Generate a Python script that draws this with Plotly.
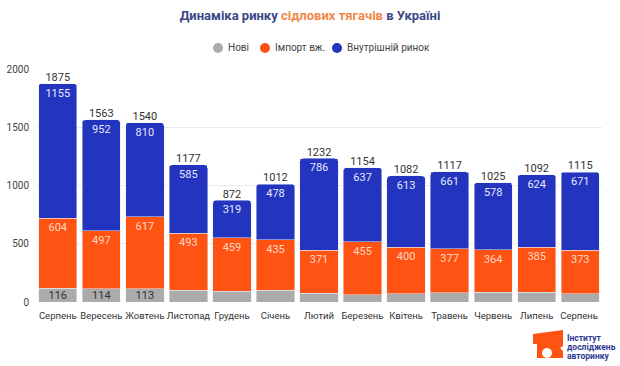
import plotly.graph_objects as go

months = ["Серпень", "Вересень", "Жовтень", "Листопад", "Грудень", "Січень", "Лютий",
          "Березень", "Квітень", "Травень", "Червень", "Липень", "Серпень "]
new_vals = [116, 114, 113, 99, 94, 99, 75, 62, 69, 79, 83, 83, 71]
import_vals = [604, 497, 617, 493, 459, 435, 371, 455, 400, 377, 364, 385, 373]
domestic_vals = [1155, 952, 810, 585, 319, 478, 786, 637, 613, 661, 578, 624, 671]
totals = [1875, 1563, 1540, 1177, 872, 1012, 1232, 1154, 1082, 1117, 1025, 1092, 1115]
new_labels = ["116", "114", "113", "", "", "", "", "", "", "", "", "", ""]
y_ticks = [0, 500, 1000, 1500, 2000]
legend_names = ["Нові", "Імпорт вж.", "Внутрішній ринок"]
logo_lines = ["Інститут", "досліджень", "авторинку"]

GRAY = "#ABABAB"
ORANGE = "#FF5313"
BLUE = "#2335BE"
FONT = "Roboto"
L, R, T, B = 36, 18, 69, 64
W, H = 620, 366
PW, PH = W - L - R, H - T - B


def px(xp):
    return (xp - L) / PW


def py(yp):
    return (H - B - yp) / PH


fig = go.Figure()

# faint watermarks
for (wx, wy) in [(70, 95), (250, 165), (490, 55), (610, 140), (440, 300), (50, 300)]:
    fig.add_annotation(text="<b>Інститут<br>досліджень<br>авторинку</b>", xref="paper", yref="paper",
                       x=px(wx), y=py(wy), showarrow=False, textangle=-20, align="left",
                       font=dict(family=FONT, size=24, color="rgba(0,0,0,0.02)"))

fig.add_trace(go.Bar(x=months, y=new_vals, marker_color=GRAY, name=legend_names[0], showlegend=False,
                     text=new_labels, textposition="inside", insidetextanchor="middle",
                     textfont=dict(color="#333333", size=11, family=FONT), hoverinfo="skip"))
fig.add_trace(go.Bar(x=months, y=import_vals, marker_color=ORANGE, name=legend_names[1], showlegend=False,
                     text=[str(v) for v in import_vals], textposition="inside", insidetextanchor="end",
                     textfont=dict(color="#FFD9C6", size=11, family=FONT), hoverinfo="skip"))
fig.add_trace(go.Bar(x=months, y=domestic_vals, marker_color=BLUE, name=legend_names[2], showlegend=False,
                     text=[str(v) for v in domestic_vals], textposition="inside", insidetextanchor="end",
                     textfont=dict(color="#E6E9FF", size=11, family=FONT), hoverinfo="skip"))
fig.add_trace(go.Scatter(x=months, y=totals, mode="text", text=[str(v) for v in totals],
                         textposition="top center", textfont=dict(color="#333333", size=11, family=FONT),
                         showlegend=False, cliponaxis=False, hoverinfo="skip"))

fig.update_layout(
    width=W, height=H,
    margin=dict(l=L, r=R, t=T, b=B, autoexpand=False),
    barmode="stack", bargap=0.12, barcornerradius=3,
    plot_bgcolor="white", paper_bgcolor="white",
    font=dict(family=FONT, size=10, color="#444444"),
    showlegend=False,
    title=dict(
        text="<b>Динаміка ринку <span style='color:#F0884A'>сідлових тягачів</span> в Україні</b>",
        x=0.5, xanchor="center", xref="container", y=1 - 15 / H, yanchor="middle", yref="container",
        font=dict(family=FONT, size=13, color="#3A4987")),
    uniformtext=dict(minsize=8, mode="show"),
)
fig.update_xaxes(showgrid=False, showline=False, ticks="", tickangle=0, automargin=False,
                 range=[-0.5, len(months) - 0.5],
                 tickfont=dict(size=9.5, color="#333333"), ticklabelstandoff=6)
fig.update_yaxes(range=[0, 2000], tickvals=y_ticks, showgrid=True, gridcolor="#EBEBEB", automargin=False,
                 zeroline=False, showline=False, tickfont=dict(size=10, color="#444444"), ticklabelstandoff=6)

# custom legend (circle markers)
legend_colors = [GRAY, ORANGE, BLUE]
legend_cx = [218, 265, 337]
for nm, col, cx in zip(legend_names, legend_colors, legend_cx):
    fig.add_shape(type="circle", xref="paper", yref="paper", xsizemode="pixel", ysizemode="pixel",
                  xanchor=px(cx), yanchor=py(48), x0=-5, x1=5, y0=-5, y1=5,
                  fillcolor=col, line=dict(width=0))
    fig.add_annotation(text=nm, xref="paper", yref="paper", x=px(cx + 8), y=py(48),
                       xanchor="left", yanchor="middle", showarrow=False,
                       font=dict(family=FONT, size=10, color="#444444"))

# logo bottom-right
fig.add_shape(type="path", xref="paper", yref="paper",
              path=(f"M {px(533)} {py(334)} L {px(563)} {py(330)} L {px(563)} {py(346)} "
                    f"L {px(560)} {py(348)} L {px(563)} {py(351)} L {px(563)} {py(358)} "
                    f"L {px(537)} {py(358)} L {px(537)} {py(344)} L {px(533)} {py(344)} Z"),
              fillcolor=ORANGE, line=dict(width=0))
fig.add_shape(type="circle", xref="paper", yref="paper", xsizemode="pixel", ysizemode="pixel",
              xanchor=px(547), yanchor=py(353), x0=-5, x1=5, y0=-5, y1=5,
              fillcolor="white", line=dict(width=0))
fig.add_shape(type="path", xref="paper", yref="paper", xsizemode="pixel", ysizemode="pixel",
              xanchor=px(547), yanchor=py(353),
              path="M 0 0 L 0 4 A 4 4 0 0 1 4 0 Z",
              fillcolor="#2A2F7A", line=dict(width=0))
for line_txt, ly in zip(logo_lines, [338, 347, 356]):
    fig.add_annotation(text=f"<b>{line_txt}</b>", xref="paper", yref="paper",
                       x=px(565), y=py(ly), xanchor="left", yanchor="middle", showarrow=False,
                       font=dict(family=FONT, size=8.5, color="#2E3A94"))

fig.write_html("out.html", config={"displayModeBar": False},
               post_script="document.body.style.margin='0';")
